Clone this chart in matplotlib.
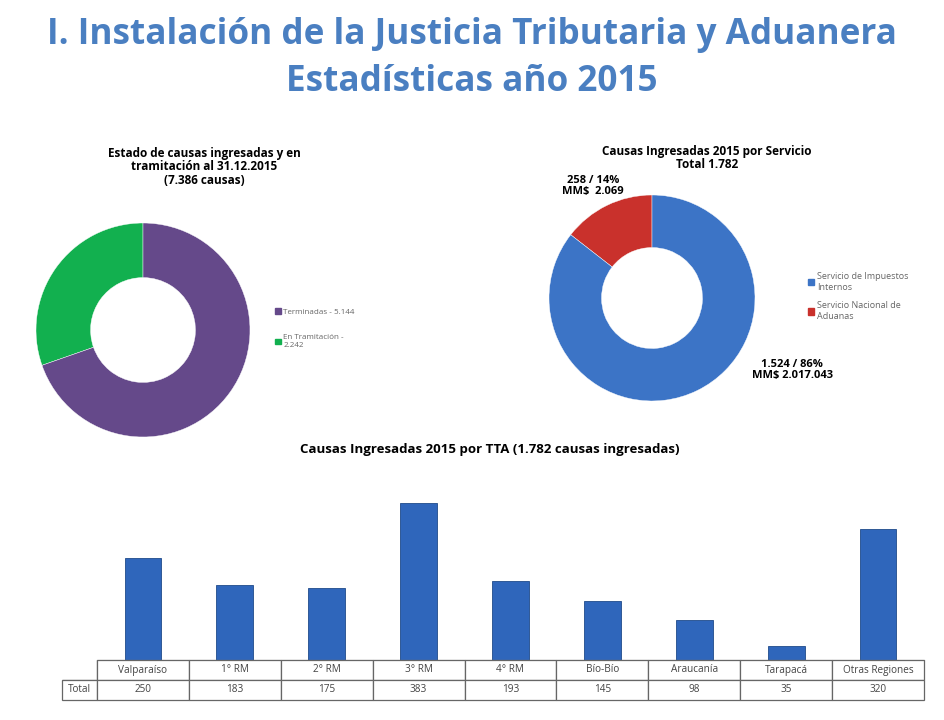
import matplotlib
matplotlib.use("Agg")
import matplotlib.pyplot as plt
from matplotlib.patches import Patch

plt.rcParams['font.family'] = ['Open Sans', 'DejaVu Sans']

# data
estado_labels = ["Terminadas - 5.144", "En Tramitación -\n2.242"]
estado_values = [5144, 2242]
estado_colors = ["#65498A", "#12B04F"]

servicio_labels = ["Servicio de Impuestos\nInternos", "Servicio Nacional de\nAduanas"]
servicio_values = [1524, 258]
servicio_colors = ["#3C74C6", "#C9312C"]

tta_names = ["Valparaíso", "1° RM", "2° RM", "3° RM", "4° RM", "Bío-Bío",
             "Araucanía", "Tarapacá", "Otras Regiones"]
tta_values = [250, 183, 175, 383, 193, 145, 98, 35, 320]

fig = plt.figure(figsize=(9.44, 7.2), dpi=100)
fig.patch.set_facecolor("white")

title_col = "#4A7FC1"
fig.text(0.5, 0.951, "I. Instalación de la Justicia Tributaria y Aduanera",
         ha="center", va="center", fontsize=25.3, fontweight="bold", color=title_col)
fig.text(0.5, 0.886, "Estadísticas año 2015",
         ha="center", va="center", fontsize=25.3, fontweight="bold", color=title_col)

# donut 1
ax1 = fig.add_axes([36/944, 1-437/720, 214/944, 214/720])
ax1.pie(estado_values[::-1], colors=estado_colors[::-1], startangle=90,
        counterclock=True, radius=1,
        wedgeprops=dict(width=0.51, edgecolor="white", linewidth=0.3))
ax1.set_xlim(-1, 1)
ax1.set_ylim(-1, 1)
ax1.set_aspect("equal")
fig.text(204/944, 1-167/720, "Estado de causas ingresadas y en\ntramitación al 31.12.2015\n(7.386 causas)",
         ha="center", va="center", fontsize=8.5, fontweight="bold", linespacing=1.1)
fig.legend(handles=[Patch(color=c, label=l) for c, l in zip(estado_colors, estado_labels)],
           loc="upper left", bbox_to_anchor=(268/944, 1-301/720), frameon=False,
           fontsize=5.8, labelcolor="#666666", handlelength=0.7, handleheight=0.7,
           handletextpad=0.3, labelspacing=2.3)

# donut 2
ax2 = fig.add_axes([549/944, 1-401/720, 206/944, 206/720])
ax2.pie(servicio_values[::-1], colors=servicio_colors[::-1], startangle=90,
        counterclock=True, radius=1,
        wedgeprops=dict(width=0.51, edgecolor="white", linewidth=0.3))
ax2.set_xlim(-1, 1)
ax2.set_ylim(-1, 1)
ax2.set_aspect("equal")
fig.text(707/944, 1-158/720, "Causas Ingresadas 2015 por Servicio\nTotal 1.782",
         ha="center", va="center", fontsize=8.5, fontweight="bold", linespacing=1.1)
fig.text(593/944, 1-186/720, "258 / 14%\nMM$  2.069", ha="center", va="center",
         fontsize=8, fontweight="bold", linespacing=1.1)
fig.text(792/944, 1-370/720, "1.524 / 86%\nMM$ 2.017.043", ha="center", va="center",
         fontsize=8, fontweight="bold", linespacing=1.1)
fig.legend(handles=[Patch(color=c, label=l) for c, l in zip(servicio_colors, servicio_labels)],
           loc="upper left", bbox_to_anchor=(800/944, 1-264/720), frameon=False,
           fontsize=6.5, labelcolor="#666666", handlelength=0.7, handleheight=0.7,
           handletextpad=0.3, labelspacing=1.1)

# bar chart
ax3 = fig.add_axes([97/944, 60/720, 827/944, 195/720])
x = range(len(tta_values))
ax3.bar(x, tta_values, width=0.4, color="#2F66BB", edgecolor="#1F4A8A", linewidth=0.6)
ax3.set_xlim(-0.5, len(tta_values) - 0.5)
ax3.set_ylim(0, 383 * 195 / 157)
for s in ["top", "right", "left"]:
    ax3.spines[s].set_visible(False)
ax3.spines["bottom"].set_color("#888888")
ax3.set_xticks([])
ax3.set_yticks([])
fig.text(490/944, 1-449/720, "Causas Ingresadas 2015 por TTA (1.782 causas ingresadas)",
         ha="center", va="center", fontsize=9.5, fontweight="bold")

# data table
axt = fig.add_axes([62/944, 20/720, 862/944, 40/720])
axt.axis("off")
cells = [[""] + tta_names, ["Total"] + [str(v) for v in tta_values]]
tw = [35] + [92] * len(tta_names)
tbl = axt.table(cellText=cells, colWidths=[w / sum(tw) for w in tw],
                cellLoc="center", bbox=[0, 0, 1, 1])
tbl.auto_set_font_size(False)
tbl.set_fontsize(7.2)
for (r, c), cell in tbl.get_celld().items():
    cell.set_edgecolor("#666666")
    cell.set_linewidth(0.9)
    cell.get_text().set_color("#444444")
    if r == 0 and c == 0:
        cell.visible_edges = "BR"

fig.savefig("out.png", dpi=100, facecolor="white")
